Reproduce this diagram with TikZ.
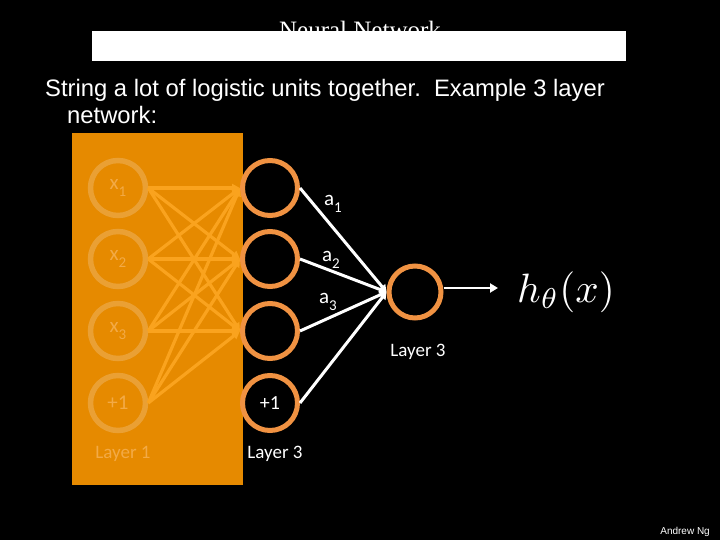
\documentclass[tikz,border=0pt]{standalone}
\usepackage{fontspec}
\newfontfamily\calib{Carlito}
\newfontfamily\arialf{Liberation Sans}
\newfontfamily\timesf{Liberation Serif}
\usetikzlibrary{arrows.meta}
\newcommand\mysubs[1]{\raisebox{-0.32em}{\fontsize{15}{15}\selectfont #1}}
\definecolor{rectorange}{RGB}{230,138,0}
\definecolor{fadering}{RGB}{234,160,52}
\definecolor{fadetext}{RGB}{243,170,70}
\definecolor{ringorange}{RGB}{240,146,66}
\definecolor{lineorange}{RGB}{250,163,30}
\tikzset{
  inunit/.style={circle, draw=fadering, line width=5.5pt, minimum size=55pt, inner sep=0pt,
    text=fadetext, font=\calib\fontsize{21}{23}\selectfont},
  hidunit/.style={circle, draw=ringorange, fill=black, line width=5pt, minimum size=55pt, inner sep=0pt,
    text=white, font=\calib\fontsize{20}{22}\selectfont},
  lbl/.style={text=white, font=\calib\fontsize{21}{23}\selectfont, inner sep=0pt},
  laylbl/.style={text=white, font=\calib\fontsize{19}{21}\selectfont, inner sep=0pt},
  inedge/.style={draw=lineorange, line width=3.2pt, -{Triangle[length=8pt,width=8pt]}},
  outedge/.style={draw=white, line width=3pt, -{Triangle[length=7pt,width=8pt]}}
}
\begin{document}
\begin{tikzpicture}[x=1pt,y=-1pt]
\useasboundingbox (0,0) rectangle (720,540);
\fill[black] (0,0) rectangle (720,540);
% title
\node[anchor=base, text=white, font=\timesf\fontsize{25}{27}\selectfont, inner sep=0pt] (title) at (360,39) {Neural Network};
\fill[white] (92,31) rectangle (626,61);
% body text
\node[anchor=base west, text=white, font=\arialf\fontsize{23.8}{26}\selectfont, inner sep=0pt] (line1) at (45,97) {String a lot of logistic units together.\ \ Example 3 layer};
\node[anchor=base west, text=white, font=\arialf\fontsize{23.8}{26}\selectfont, inner sep=0pt] (line2) at (67,124) {network:};
% orange panel
\fill[rectorange] (72,133) rectangle (243,485);
% layer 1
\node[inunit] (i1) at (118,188) {x\mysubs{1}};
\node[inunit] (i2) at (118,259) {x\mysubs{2}};
\node[inunit] (i3) at (118,331) {x\mysubs{3}};
\node[inunit] (i4) at (118,403) {+1};
\node[laylbl, text=fadetext] (l1) at (123,454) {Layer 1};
% layer 2
\node[hidunit] (h1) at (270,188) {};
\node[hidunit] (h2) at (270,259) {};
\node[hidunit] (h3) at (270,331) {};
\node[hidunit] (h4) at (270,403) {+1};
\node[laylbl] (l2) at (275,454) {Layer 3};
% edges layer1 -> layer2
\foreach \i in {1,2,3,4}{
  \foreach \j in {1,2,3}{
    \draw[inedge] (i\i.east) -- (h\j.west);
  }
}
% output
\node[hidunit, minimum size=52pt] (o) at (415,292) {};
\node[laylbl] (l3) at (418,352) {Layer 3};
\foreach \j in {1,2,3,4}{
  \draw[outedge] (h\j.east) -- (o.west);
}
\node[lbl] (a1) at (333,204) {a\mysubs{1}};
\node[lbl] (a2) at (331,260) {a\mysubs{2}};
\node[lbl] (a3) at (328,302) {a\mysubs{3}};
\coordinate (hend) at (498,288);
\draw[white, line width=2.5pt, -{Triangle[length=8pt,width=9pt]}] (o.east |- hend) -- (hend);
\node[anchor=base west, text=white, inner sep=0pt, font=\fontsize{10}{12}\selectfont] (h) at (517,302) {\scalebox{4.1}{$h_\theta(x)$}};
\node[anchor=base east, text=white, inner sep=0pt, font=\arialf\fontsize{10}{12}\selectfont] (ng) at (710,534) {Andrew Ng};
\end{tikzpicture}
\end{document}
